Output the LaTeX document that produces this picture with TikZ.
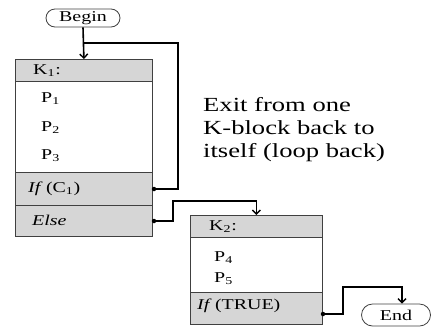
\documentclass[tikz,border=0pt]{standalone}
\usepackage{fontspec}
\setmainfont{Liberation Serif}
\usepackage{graphicx}
\usetikzlibrary{arrows.meta,calc}
% horizontally widened text
\newcommand\wide[1]{\scalebox{1.33}[1]{#1}}
\begin{document}
\begin{tikzpicture}[x=1pt,y=-1pt,
  cell/.style={draw=black!75, line width=0.8pt, anchor=north west, inner sep=0pt},
  graycell/.style={cell, fill=black!16},
  whitecell/.style={cell, fill=white},
  lbl/.style={anchor=west, inner sep=0pt, font=\fontsize{15}{17}\selectfont},
  term/.style={draw=black!75, line width=0.8pt, rounded corners=9pt, minimum width=74pt,
    minimum height=18pt, inner sep=0pt, font=\fontsize{15}{17}\selectfont},
  conn/.style={line width=1.6pt, black},
  arr/.style={conn, -{Straight Barb[length=4pt,width=8pt,line width=1.4pt]}},
  dot/.style={circle, fill=black, inner sep=0pt, minimum size=4.5pt},
]
\useasboundingbox (0,0) rectangle (435,327);

% terminals
\node[term] (begin) at (83,18) {\wide{Begin}};
\node[term, minimum width=69pt, minimum height=22pt, rounded corners=11pt] (end) at (396,315) {\wide{End}};

% block K1
\node[graycell, minimum width=137pt, minimum height=22pt] (k1h) at (15,59) {};
\node[whitecell, minimum width=137pt, minimum height=91pt] (k1b) at (15,81) {};
\node[graycell, minimum width=137pt, minimum height=33pt] (k1if) at (15,172) {};
\node[graycell, minimum width=137pt, minimum height=31pt] (k1else) at (15,205) {};
\node[lbl] (tk1) at (33,71) {\wide{K\textsubscript{1}:}};
\node[lbl] (tp1) at (41,99) {\wide{P\textsubscript{1}}};
\node[lbl] (tp2) at (41,128) {\wide{P\textsubscript{2}}};
\node[lbl] (tp3) at (41,156) {\wide{P\textsubscript{3}}};
\node[lbl] (tif1) at (28,189) {\wide{\textit{If}\,(C\textsubscript{1})}};
\node[lbl] (telse) at (32,220) {\wide{\textit{Else}}};

% block K2
\node[graycell, minimum width=132pt, minimum height=22pt] (k2h) at (190,215) {};
\node[whitecell, minimum width=132pt, minimum height=77pt] (k2b) at (190,237) {};
\node[graycell, minimum width=132pt, minimum height=32pt] (k2if) at (190,292) {};
\node[lbl] (tk2) at (209,227) {\wide{K\textsubscript{2}:}};
\node[lbl] (tp4) at (214,258) {\wide{P\textsubscript{4}}};
\node[lbl] (tp5) at (214,279) {\wide{P\textsubscript{5}}};
\node[lbl] (tif2) at (197,306) {\wide{\textit{If}\,(TRUE)}};

% remark
\node[anchor=west, inner sep=0pt, align=left, font=\fontsize{20}{23}\selectfont] (note) at (203,130)
  {\wide{Exit from one}\\ \wide{K-block back to}\\ \wide{itself (loop back)}};

% exit points
\node[dot] (d1) at (154,189) {};
\node[dot] (d2) at (154,221) {};
\node[dot] (d3) at (323,314) {};

% connectors
\coordinate (looptop) at (178,43);
\coordinate (elsejog) at (173,201);
\coordinate (endjog) at (343,287);
\draw[arr] (begin.south) -- (k1h.north);
\draw[conn] (d1.center) -| (looptop) -- (begin.south |- looptop);
\draw[arr] (d2.center) -| (elsejog) -| (k2h.north);
\draw[arr] (d3.center) -| (endjog) -| ($(end.north)+(6,0)$);
\end{tikzpicture}
\end{document}
